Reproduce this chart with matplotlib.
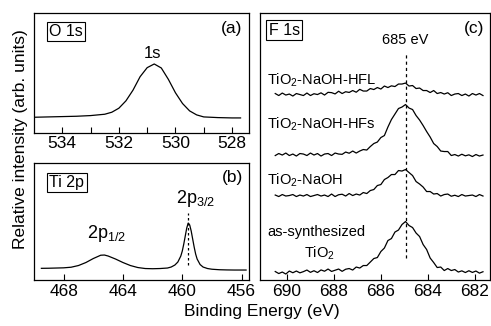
import numpy as np
import matplotlib.pyplot as plt

plt.rcParams['font.family'] = ['Liberation Sans', 'DejaVu Sans']
plt.rcParams['mathtext.fontset'] = 'custom'
plt.rcParams['mathtext.rm'] = 'Liberation Sans'
plt.rcParams['mathtext.it'] = 'Liberation Sans:italic'
plt.rcParams['mathtext.default'] = 'regular'

# --- O 1s ---
o1s_be = [535.0, 534.5, 534.0, 533.5, 533.0, 532.5, 532.25, 532.0, 531.75, 531.5,
          531.25, 531.0, 530.75, 530.5, 530.25, 530.0, 529.75, 529.5, 529.25,
          529.0, 528.5, 528.0, 527.7]
o1s_int = [47, 48, 49, 50, 52, 56, 62, 74, 96, 128, 168, 195, 206, 194, 160, 120,
           88, 66, 54, 48, 46, 45, 45]

# --- Ti 2p ---
ti_be = [469.5, 469.0, 468.5, 468.0, 467.5, 467.0, 466.5, 466.0, 465.5, 465.25,
         465.0, 464.5, 464.0, 463.5, 463.0, 462.5, 462.0, 461.5, 461.0, 460.75,
         460.5, 460.3, 460.1, 460.0, 459.9, 459.8, 459.7, 459.6, 459.5, 459.4,
         459.3, 459.2, 459.1, 459.0, 458.8, 458.6, 458.3, 458.0, 457.5, 457.0,
         456.5, 456.0, 455.7]
ti_int = [11.7, 11.8, 12, 12.2, 12.8, 14.5, 17.5, 21.5, 24.8, 25, 24, 21, 17.5,
          14.5, 12.5, 11.5, 11.3, 11.5, 12, 13, 15, 18, 24, 29, 36, 44, 52, 57,
          55, 49, 41, 33, 26, 21, 15.5, 13, 11.5, 10.8, 10.3, 10.1, 10, 10, 10]

# --- F 1s (60 points, 690.5 -> 681.65 eV) ---
f_start, f_stop, f_n = 690.5, 681.65, 60
f_assyn = [1, -1, 0.5, -1.5, 1.5, -0.2, 1.5, -0.3, 0.9, 2.5, 0.2, 1.8, 0, 2.6, 1.3,
           3.5, 1.1, 2.3, 3.5, 1.2, 3.3, 4, 2.5, 5.5, 4.5, 7, 7, 10.5, 14, 15,
           21, 24.5, 32, 34, 40.5, 42.5, 48, 51, 47, 45, 39.5, 36, 28, 23, 14.5,
           10, 5, 5.5, 2, 4, 2, 3, 0.5, 1.7, 0, 1.8, 0.1, 1.5, -0.6, 0.8]
f_naoh = [0.5, -1, 1, -0.5, 0, 1, -1, 0.5, -0.5, 1, -1, 0, 1, -0.5, 0.5, -1, 1.5,
          -1, 0.8, 1.3, -0.5, 2, 0, 1.5, 0.5, 3, 2, 5, 6, 10, 11, 16, 18, 21, 21,
          25, 24.5, 26, 23, 20, 14, 11.5, 8.5, 4, 4, 1.5, 2, -0.5, 1, 1.5, -0.7,
          0.3, -1, 1, -0.5, 0, 0.5, -1, 1, -0.5]
f_hfs = [-1, 1, -0.5, 1.5, -1, 0.5, -1.5, 1, 0.5, -1, 1.5, -0.5, 1, -1.5, 0.5, 1,
         -1, 1.5, 0.5, 0.2, 2.5, 1.3, 3.5, 1.5, 3.5, 5, 4.5, 8, 11, 12.5, 17, 19,
         27.5, 35, 40.5, 46, 47.5, 50, 46.5, 45, 39, 34.5, 29, 23, 17.5, 11, 8,
         3.5, 3, 3, -1, 0, -1.5, 0.3, -1.3, -0.3, -2, 0, -1.5, -0.5]
f_hfl = [1, -1, 1.5, -0.5, 0.5, -1.5, 1, 0, -1, 1.5, -1, 0.8, 0, 1.7, -0.5, 2.2,
         1.9, 0.6, 3.3, 1, 2.8, 2.1, 4, 2.3, 5.2, 3.5, 3.5, 6, 5, 7, 5.5, 8.5, 7,
         8.7, 8, 10.5, 10.5, 11.5, 8.5, 9, 6, 6.5, 4, 4, 2, 4, 1, 2, 0.5, 1.8, -1,
         0.5, 1, -1, 0.5, -1.5, 1, -0.5, 1, -1]
f_traces = [f_assyn, f_naoh, f_hfs, f_hfl]
f_offsets = [7.5, 84.5, 125.5, 185.5]
f_labels = ['as-synthesized', 'TiO$_2$-NaOH', 'TiO$_2$-NaOH-HFs', 'TiO$_2$-NaOH-HFL']
f_label_y = [44, 95, 151.7, 195]

fig = plt.figure(figsize=(4.91, 3.26), dpi=100)
ax_a = fig.add_axes([0.0692, 0.592, 0.438, 0.368])
ax_b = fig.add_axes([0.0692, 0.141, 0.438, 0.359])
ax_c = fig.add_axes([0.5295, 0.141, 0.4685, 0.819])

for ax in (ax_a, ax_b, ax_c):
    ax.set_yticks([])
    ax.tick_params(axis='x', which='both', direction='in', length=4.5,
                   width=0.8, labelsize=12.5, pad=2.5)
    for s in ax.spines.values():
        s.set_linewidth(0.9)

box = dict(boxstyle='square,pad=0.15', fc='white', ec='black', lw=0.8)

# (a)
ax_a.plot(o1s_be, o1s_int, color='k', lw=0.9)
ax_a.set_xlim(535, 527.4)
ax_a.set_ylim(0, 358)
ax_a.set_xticks([534, 532, 530, 528])
ax_a.set_xticks([533, 531, 529], minor=True)
ax_a.text(0.149, 0.846, 'O 1s', transform=ax_a.transAxes, ha='center',
          va='center', fontsize=11.5, bbox=box)
ax_a.text(0.921, 0.871, '(a)', transform=ax_a.transAxes, ha='center',
          va='center', fontsize=12.5)
ax_a.text(530.8, 236, '1s', ha='center', va='center', fontsize=12)

# (b)
ax_b.plot(ti_be, ti_int, color='k', lw=0.9)
ax_b.plot([459.6, 459.6], [15, 66.7], color='k', lw=0.9, ls=(0, (2, 2)))
ax_b.set_xlim(470, 455.5)
ax_b.set_ylim(0, 117)
ax_b.set_xticks([468, 464, 460, 456])
ax_b.text(0.153, 0.833, 'Ti 2p', transform=ax_b.transAxes, ha='center',
          va='center', fontsize=11.5, bbox=box)
ax_b.text(0.921, 0.872, '(b)', transform=ax_b.transAxes, ha='center',
          va='center', fontsize=12.5)
ax_b.text(465.13, 41.7, '2p$_{1/2}$', ha='center', va='baseline', fontsize=13)
ax_b.text(459.13, 76.7, '2p$_{3/2}$', ha='center', va='baseline', fontsize=13)

# (c)
f_be = np.linspace(f_start, f_stop, f_n)
for sig, off in zip(f_traces, f_offsets):
    ax_c.plot(f_be, np.array(sig) + off, color='k', lw=0.9)
ax_c.plot([684.95, 684.95], [22, 228], color='k', lw=0.9, ls=(0, (2.5, 2.5)))
ax_c.set_xlim(691.15, 681.35)
ax_c.set_ylim(0, 267)
ax_c.set_xticks([690, 688, 686, 684, 682])
for lab, ly in zip(f_labels, f_label_y):
    ax_c.text(690.85, ly, lab, ha='left', va='baseline', fontsize=10.5)
ax_c.text(688.62, 22.7, 'TiO$_2$', ha='center', va='baseline', fontsize=10.5)
ax_c.text(684.95, 240, '685 eV', ha='center', va='center', fontsize=10.5)
ax_c.text(0.105, 0.935, 'F 1s', transform=ax_c.transAxes, ha='center',
          va='center', fontsize=11.5, bbox=box)
ax_c.text(0.93, 0.941, '(c)', transform=ax_c.transAxes, ha='center',
          va='center', fontsize=12.5)

fig.text(0.041, 0.572, 'Relative intensity (arb. units)', rotation=90,
         ha='center', va='center', fontsize=12.5)
fig.text(0.533, 0.045, 'Binding Energy (eV)', ha='center', va='center',
         fontsize=12.5)

fig.savefig('out.png', dpi=100)
